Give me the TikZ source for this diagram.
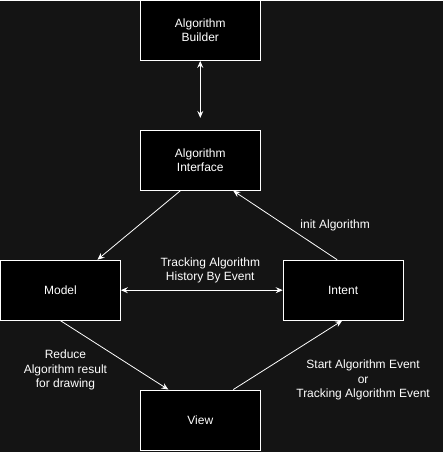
\documentclass[tikz,border=0pt]{standalone}
\usepackage{fontspec}
\setmainfont{Liberation Sans}
\usetikzlibrary{arrows.meta,positioning}
\definecolor{canvas}{HTML}{141414}
\tikzset{
  block/.style={draw=white,fill=black,line width=1pt,minimum width=120pt,minimum height=60pt,inner sep=0pt,align=center,text=white,font=\fontsize{12}{14.5}\selectfont},
  flow/.style={-{Stealth[length=7pt,width=6pt,inset=2.5pt]},line width=0.8pt,color=white},
  twoway/.style={flow,{Stealth[length=7pt,width=6pt,inset=2.5pt]}-{Stealth[length=7pt,width=6pt,inset=2.5pt]}},
  note/.style={text=white,align=center,inner sep=0pt,font=\fontsize{12}{14.5}\selectfont},
}
\begin{document}
\begin{tikzpicture}[x=1pt,y=-1pt]
  \fill[canvas] (0,0) rectangle (443,452);
  % blocks
  \node[block] (builder) at (200,30) {Algorithm\\Builder};
  \node[block] (iface) at (200,160) {Algorithm\\Interface};
  \node[block] (model) at (60,290) {Model};
  \node[block] (intent) at (343,290) {Intent};
  \node[block] (view) at (200,420) {View};
  % connectors
  \draw[twoway,shorten >=12pt] (builder.south) -- (iface.north);
  \draw[flow] ([xshift=-20pt]iface.south) -- ([xshift=37pt]model.north);
  \draw[flow] ([xshift=-6pt]intent.north) -- ([xshift=33pt]iface.south);
  \draw[twoway] (model.east) -- (intent.west);
  \draw[flow] (model.south) -- ([xshift=-32pt]view.north);
  \draw[flow] ([xshift=33pt]view.north) -- ([xshift=-1pt]intent.south);
  % labels
  \node[note] (initlbl) at (335,225) {init Algorithm};
  \node[note] (histlbl) at (210,270) {Tracking Algorithm\\History By Event};
  \node[note] (reducelbl) at (65,370) {Reduce\\Algorithm result\\for drawing};
  \node[note] (startlbl) at (363,380) {Start Algorithm Event\\or\\Tracking Algorithm Event};
\end{tikzpicture}
\end{document}
